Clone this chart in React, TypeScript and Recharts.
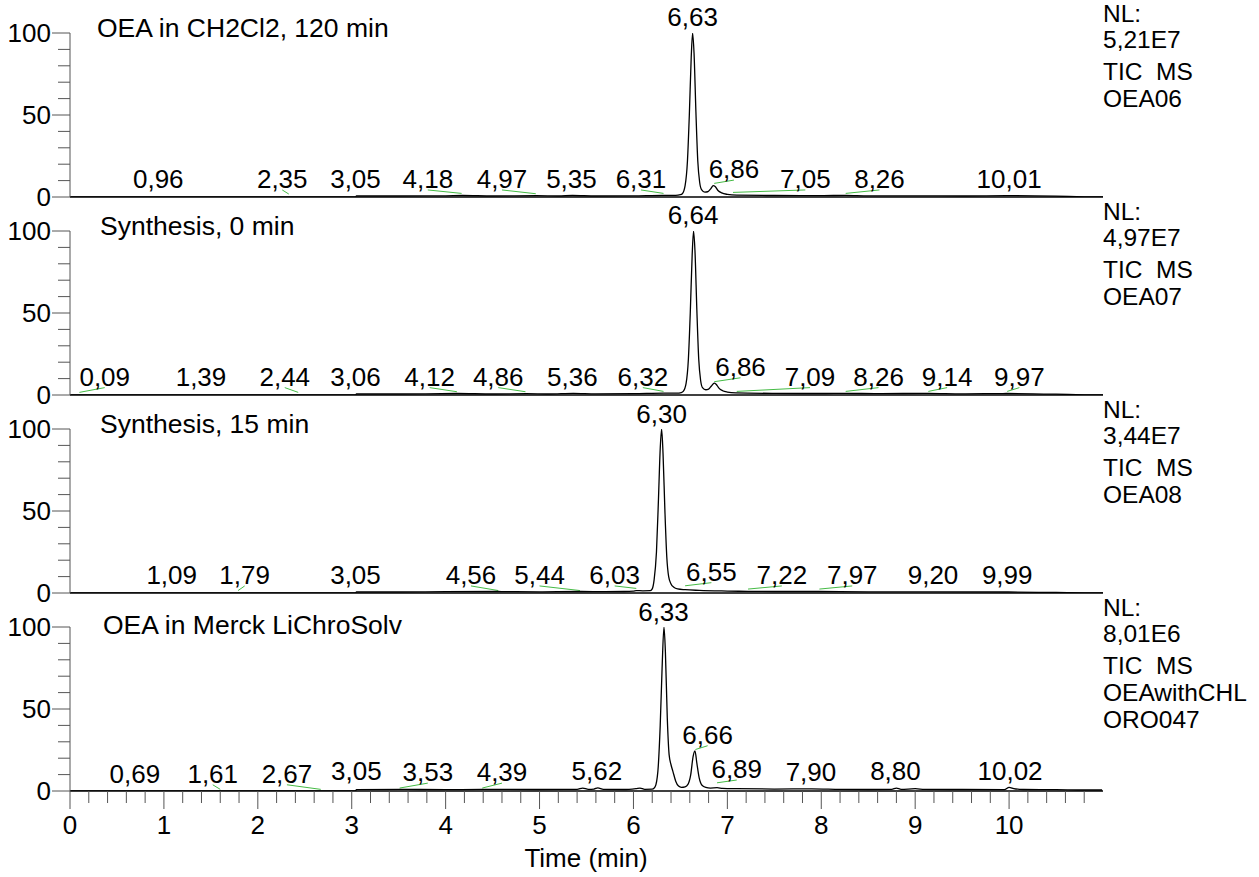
import React from "react";
import { LineChart, Line, XAxis, YAxis, ReferenceLine, ReferenceDot } from "recharts";

const FONT = "'Liberation Sans', Arial, Helvetica, sans-serif";
const PLOT_LEFT = 70;
const PLOT_TOP = 33;
const PLOT_H = 164;
const AXIS_Y = PLOT_TOP + PLOT_H;
const PANEL_STEP = 198;
const GREEN = "#45bb45";
const GREY = "#555";
const LABEL_FS = 26;

// ---- axis ticks ----
const yTicks = [0, 10, 20, 30, 40, 50, 60, 70, 80, 90, 100];
const yTickLabels = [0, 50, 100];
const xTicks = [
  0, 0.2, 0.4, 0.6, 0.8, 1, 1.2, 1.4, 1.6, 1.8, 2, 2.2, 2.4, 2.6, 2.8, 3, 3.2, 3.4, 3.6, 3.8,
  4, 4.2, 4.4, 4.6, 4.8, 5, 5.2, 5.4, 5.6, 5.8, 6, 6.2, 6.4, 6.6, 6.8, 7, 7.2, 7.4, 7.6, 7.8,
  8, 8.2, 8.4, 8.6, 8.8, 9, 9.2, 9.4, 9.6, 9.8, 10, 10.2, 10.4, 10.6, 10.8,
];
const xTickLabels = [0, 1, 2, 3, 4, 5, 6, 7, 8, 9, 10];

// ---- traces: [time (min), relative abundance (%)] ----
const trace1: [number, number][] = [
  [0, 0], [3.04, 0], [3.05, 0.6], [3.5, 0.6], [4.0, 0.7], [4.18, 0.9], [4.5, 0.6], [4.97, 0.8],
  [5.2, 0.6], [5.35, 0.9], [5.6, 0.6], [6.0, 0.7], [6.31, 1.0], [6.45, 1.0], [6.5, 1.4],
  [6.52, 2], [6.55, 7], [6.575, 22], [6.595, 50], [6.615, 85], [6.63, 100], [6.645, 88],
  [6.665, 52], [6.685, 22], [6.705, 9], [6.725, 4.5], [6.76, 3], [6.79, 3.2], [6.82, 4.8],
  [6.85, 6.9], [6.87, 6.4], [6.9, 4], [6.94, 2.5], [7.0, 1.6], [7.1, 1.1], [7.5, 0.9],
  [8.0, 0.8], [8.26, 1.0], [8.5, 0.7], [9.0, 0.7], [9.5, 0.6], [10.01, 0.8], [10.5, 0.5],
  [10.8, 0.1], [11, 0],
];
const trace2: [number, number][] = [
  [0, 0], [3.04, 0], [3.05, 0.6], [3.5, 0.6], [4.12, 0.9], [4.5, 0.6], [4.86, 0.8], [5.1, 0.6],
  [5.36, 1.0], [5.6, 0.7], [6.0, 0.8], [6.32, 1.1], [6.46, 1.1], [6.51, 1.5], [6.53, 2.2],
  [6.56, 7], [6.585, 22], [6.605, 50], [6.625, 85], [6.64, 100], [6.655, 88], [6.675, 52],
  [6.695, 22], [6.715, 9], [6.735, 4.5], [6.77, 3.2], [6.8, 3.6], [6.83, 5.5], [6.86, 7.3],
  [6.88, 6.6], [6.91, 4.2], [6.95, 2.6], [7.0, 1.8], [7.09, 1.3], [7.5, 1.0], [8.0, 0.9],
  [8.26, 1.0], [8.6, 0.8], [9.14, 1.0], [9.5, 0.7], [9.97, 0.9], [10.5, 0.5], [10.8, 0.1],
  [11, 0],
];
const trace3: [number, number][] = [
  [0, 0], [3.04, 0], [3.05, 0.6], [3.5, 0.6], [4.0, 0.8], [4.56, 0.9], [5.0, 0.7], [5.44, 0.9],
  [5.7, 0.8], [5.9, 0.9], [6.0, 1.2], [6.03, 1.5], [6.1, 1.3], [6.18, 1.4], [6.2, 2.5],
  [6.22, 8], [6.245, 25], [6.265, 55], [6.285, 88], [6.3, 100], [6.315, 85], [6.335, 50],
  [6.355, 22], [6.375, 10], [6.4, 5.5], [6.43, 3.5], [6.47, 2.5], [6.55, 2.0], [6.7, 1.6],
  [7.0, 1.2], [7.22, 1.0], [7.5, 0.9], [7.97, 0.9], [8.5, 0.7], [9.2, 0.7], [9.99, 0.6],
  [10.5, 0.3], [10.8, 0.1], [11, 0],
];
const trace4: [number, number][] = [
  [0, 0], [3.04, 0], [3.05, 0.8], [3.53, 1.0], [4.0, 0.8], [4.39, 1.0], [5.0, 0.9], [5.4, 1.0],
  [5.46, 1.8], [5.52, 1.0], [5.58, 1.2], [5.62, 1.9], [5.68, 1.0], [5.9, 0.9], [6.03, 1.5],
  [6.07, 1.8], [6.12, 1.0], [6.2, 1.1], [6.23, 2.5], [6.26, 12], [6.285, 40], [6.305, 75],
  [6.325, 100], [6.34, 85], [6.36, 45], [6.38, 22], [6.4, 16], [6.42, 12], [6.45, 6],
  [6.48, 3], [6.51, 2.2], [6.55, 2.5], [6.58, 4], [6.61, 10], [6.635, 21], [6.655, 24.5],
  [6.675, 17], [6.7, 8], [6.73, 3.5], [6.77, 2.2], [6.82, 1.8], [6.89, 2.0], [6.95, 1.6],
  [7.1, 1.4], [7.5, 1.2], [7.9, 1.3], [8.2, 1.0], [8.5, 0.9], [8.75, 1.0], [8.8, 1.8],
  [8.85, 1.0], [9.0, 1.4], [9.1, 1.0], [9.5, 0.9], [9.95, 0.8], [10.0, 2.2], [10.05, 1.5],
  [10.15, 0.9], [10.5, 0.8], [10.8, 0.6], [10.99, 0.6],
];

// ---- peak labels: text, label centre time, label baseline %, leader end (time, %) ----
type PeakLabel = { text: string; lt: number; ly: number; px?: number; py?: number };
const peaks1: PeakLabel[] = [
  { text: "0,96", lt: 0.94, ly: 5.5 },
  { text: "2,35", lt: 2.26, ly: 5.5, px: 2.33, py: 1.8 },
  { text: "3,05", lt: 3.04, ly: 5.5 },
  { text: "4,18", lt: 3.81, ly: 5.5, px: 4.17, py: 2.2 },
  { text: "4,97", lt: 4.6, ly: 5.5, px: 4.96, py: 2.0 },
  { text: "5,35", lt: 5.34, ly: 5.5 },
  { text: "6,31", lt: 6.08, ly: 5.5, px: 6.32, py: 2.2 },
  { text: "6,63", lt: 6.63, ly: 104 },
  { text: "6,86", lt: 7.07, ly: 11.5, px: 6.86, py: 8.3 },
  { text: "7,05", lt: 7.83, ly: 5.5, px: 7.06, py: 2.8 },
  { text: "8,26", lt: 8.62, ly: 5.5, px: 8.26, py: 2.2 },
  { text: "10,01", lt: 10.0, ly: 5.5 },
];
const peaks2: PeakLabel[] = [
  { text: "0,09", lt: 0.37, ly: 5.7, px: 0.1, py: 1.6 },
  { text: "1,39", lt: 1.395, ly: 5.7 },
  { text: "2,44", lt: 2.287, ly: 5.7, px: 2.43, py: 1.6 },
  { text: "3,06", lt: 3.04, ly: 5.7 },
  { text: "4,12", lt: 3.83, ly: 5.7, px: 4.12, py: 2.0 },
  { text: "4,86", lt: 4.56, ly: 5.7, px: 4.85, py: 2.0 },
  { text: "5,36", lt: 5.35, ly: 5.7 },
  { text: "6,32", lt: 6.1, ly: 5.7, px: 6.32, py: 2.2 },
  { text: "6,64", lt: 6.635, ly: 104 },
  { text: "6,86", lt: 7.14, ly: 11.7, px: 6.86, py: 8.1 },
  { text: "7,09", lt: 7.88, ly: 5.7, px: 7.1, py: 2.2 },
  { text: "8,26", lt: 8.61, ly: 5.7, px: 8.26, py: 2.2 },
  { text: "9,14", lt: 9.34, ly: 5.7, px: 9.14, py: 2.2 },
  { text: "9,97", lt: 10.11, ly: 5.7, px: 9.98, py: 2.2 },
];
const peaks3: PeakLabel[] = [
  { text: "1,09", lt: 1.083, ly: 5.5 },
  { text: "1,79", lt: 1.86, ly: 5.5, px: 1.79, py: 1.5 },
  { text: "3,05", lt: 3.04, ly: 5.5 },
  { text: "4,56", lt: 4.27, ly: 5.5, px: 4.56, py: 1.5 },
  { text: "5,44", lt: 5.0, ly: 5.5, px: 5.43, py: 1.5 },
  { text: "6,03", lt: 5.8, ly: 5.5, px: 6.03, py: 2.8 },
  { text: "6,30", lt: 6.3, ly: 103.5 },
  { text: "6,55", lt: 6.83, ly: 7.5, px: 6.55, py: 4.4 },
  { text: "7,22", lt: 7.58, ly: 5.5, px: 7.22, py: 2.4 },
  { text: "7,97", lt: 8.33, ly: 5.5, px: 7.98, py: 2.4 },
  { text: "9,20", lt: 9.19, ly: 5.5 },
  { text: "9,99", lt: 9.98, ly: 5.5 },
];
const peaks4: PeakLabel[] = [
  { text: "0,69", lt: 0.69, ly: 5.0 },
  { text: "1,61", lt: 1.52, ly: 5.0, px: 1.6, py: 1.0 },
  { text: "2,67", lt: 2.31, ly: 5.0, px: 2.67, py: 1.0 },
  { text: "3,05", lt: 3.05, ly: 6.5 },
  { text: "3,53", lt: 3.81, ly: 6.0, px: 3.51, py: 1.8 },
  { text: "4,39", lt: 4.6, ly: 6.0, px: 4.39, py: 1.8 },
  { text: "5,62", lt: 5.61, ly: 6.5 },
  { text: "6,33", lt: 6.32, ly: 103.7 },
  { text: "6,66", lt: 6.79, ly: 28.8, px: 6.66, py: 25.3 },
  { text: "6,89", lt: 7.1, ly: 7.9, px: 6.89, py: 5.0 },
  { text: "7,90", lt: 7.89, ly: 6.4 },
  { text: "8,80", lt: 8.79, ly: 6.9 },
  { text: "10,02", lt: 10.01, ly: 6.9 },
];

const titles = ["OEA in CH2Cl2, 120 min", "Synthesis, 0 min", "Synthesis, 15 min", "OEA in Merck LiChroSolv"];
const titleX = [97, 100, 100, 103];
const titleY = [37, 37, 37, 40];
const infoLines = [
  ["NL:", "5,21E7", "TIC  MS", "OEA06"],
  ["NL:", "4,97E7", "TIC  MS", "OEA07"],
  ["NL:", "3,44E7", "TIC  MS", "OEA08"],
  ["NL:", "8,01E6", "TIC  MS", "OEAwithCHL", "ORO047"],
];
const infoOffsets = [22, 48, 80, 107, 134];

const traces = [trace1, trace2, trace3, trace4];
const peaks = [peaks1, peaks2, peaks3, peaks4];

const YTick = (props: any) => {
  const { y, payload } = props;
  const v = payload.value;
  const major = yTickLabels.includes(v);
  return (
    <g>
      <line x1={PLOT_LEFT - (major ? 18 : 12)} x2={PLOT_LEFT} y1={y} y2={y} stroke={GREY} strokeWidth={1} />
      {major && (
        <text x={51} y={y} dy="0.36em" textAnchor="end" fontFamily={FONT} fontSize={LABEL_FS} fill="#000">
          {v}
        </text>
      )}
    </g>
  );
};

const XTick = (props: any) => {
  const { x, payload } = props;
  const v = payload.value;
  const major = xTickLabels.some((m) => Math.abs(m - v) < 1e-6);
  return (
    <g>
      <line x1={x} x2={x} y1={AXIS_Y} y2={AXIS_Y + (major ? 18 : 12)} stroke={GREY} strokeWidth={1} />
      {major && (
        <text x={x} y={AXIS_Y + 43} textAnchor="middle" fontFamily={FONT} fontSize={LABEL_FS} fill="#000">
          {Math.round(v)}
        </text>
      )}
    </g>
  );
};

function Panel({ index }: { index: number }) {
  const withAxis = index === 3;
  const height = withAxis ? 283 : 216;
  const data = traces[index].map(([t, v]) => ({ t, v }));
  const labels = peaks[index];
  return (
    <LineChart
      width={1259}
      height={height}
      data={data}
      margin={{ top: PLOT_TOP, right: 156, left: 0, bottom: withAxis ? height - PLOT_TOP - PLOT_H - 50 : height - PLOT_TOP - PLOT_H }}
    >
      <XAxis
        dataKey="t"
        type="number"
        domain={[0, 11]}
        ticks={xTicks}
        interval={0}
        hide={!withAxis}
        height={50}
        axisLine={{ stroke: "#000", strokeWidth: 1.5 }}
        tickLine={false}
        tick={XTick}
        allowDataOverflow
      />
      <YAxis
        type="number"
        domain={[0, 100]}
        ticks={yTicks}
        interval={0}
        width={70}
        axisLine={{ stroke: GREY, strokeWidth: 1 }}
        tickLine={false}
        tick={YTick}
        allowDataOverflow
      />
      {!withAxis && <ReferenceLine y={0} stroke="#000" strokeWidth={1.5} />}
      {labels
        .filter((l) => l.px !== undefined)
        .map((l, i) => (
          <ReferenceLine
            key={"ld" + i}
            segment={[
              { x: l.lt, y: l.ly - 1.2 },
              { x: l.px as number, y: l.py as number },
            ]}
            stroke={GREEN}
            strokeWidth={1}
            ifOverflow="visible"
          />
        ))}
      <Line
        type="monotone"
        dataKey="v"
        stroke="#000"
        strokeWidth={1.3}
        dot={false}
        isAnimationActive={false}
      />
      {labels.map((l, i) => (
        <ReferenceDot
          key={"lb" + i}
          x={l.lt}
          y={l.ly}
          r={1}
          ifOverflow="visible"
          shape={(p: any) => (
            <text x={p.cx} y={p.cy} textAnchor="middle" fontFamily={FONT} fontSize={LABEL_FS} fill="#000">
              {l.text}
            </text>
          )}
        />
      ))}
    </LineChart>
  );
}

export default function App() {
  return (
    <div style={{ position: "absolute", left: 0, top: 0, width: 1259, height: 877, background: "#fff", overflow: "hidden" }}>
      {[0, 1, 2, 3].map((i) => (
        <div key={i} style={{ position: "absolute", left: 0, top: i * PANEL_STEP, width: 1259 }}>
          <Panel index={i} />
        </div>
      ))}
      <svg width={1259} height={877} style={{ position: "absolute", left: 0, top: 0, pointerEvents: "none" }}>
        {titles.map((t, i) => (
          <text key={"t" + i} x={titleX[i]} y={i * PANEL_STEP + titleY[i]} fontFamily={FONT} fontSize={26.5} fill="#000">
            {t}
          </text>
        ))}
        {infoLines.map((lines, i) =>
          lines.map((s, j) => (
            <text
              key={"n" + i + "-" + j}
              x={1103}
              y={i * PANEL_STEP + infoOffsets[j]}
              fontFamily={FONT}
              fontSize={24.5}
              fill="#000"
              style={{ whiteSpace: "pre" }}
            >
              {s}
            </text>
          ))
        )}
        <text x={586} y={867} textAnchor="middle" fontFamily={FONT} fontSize={26} fill="#000">
          Time (min)
        </text>
      </svg>
    </div>
  );
}
